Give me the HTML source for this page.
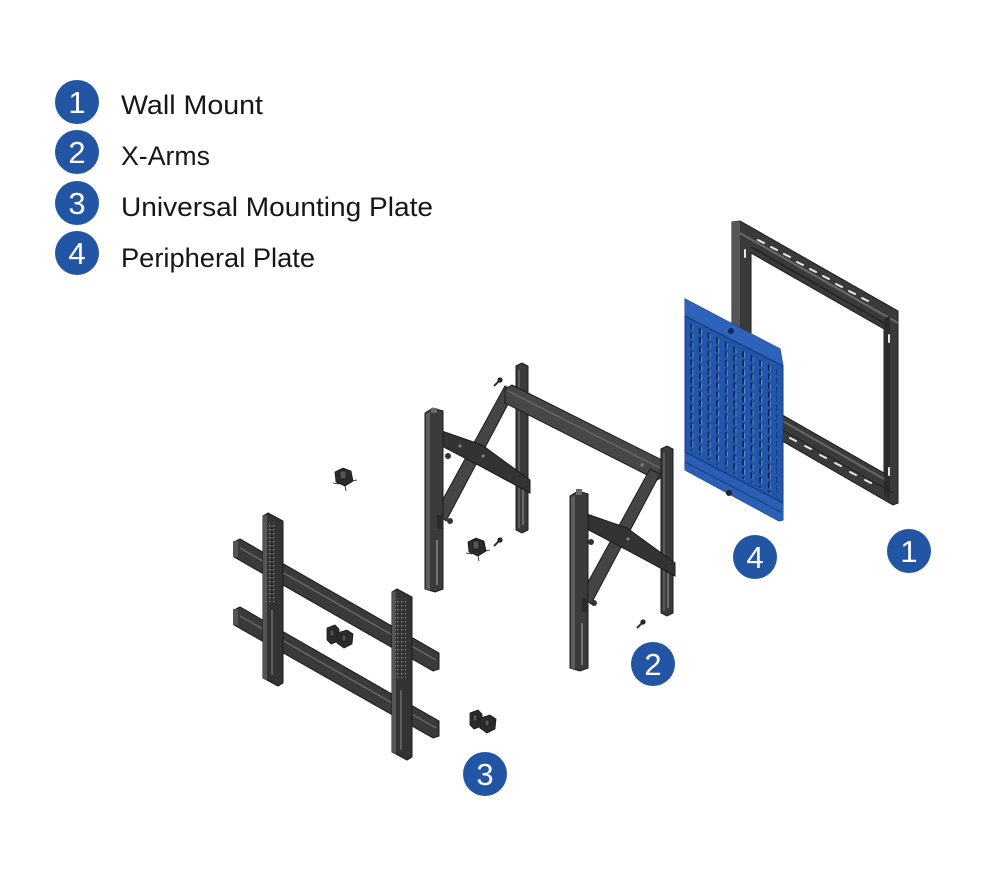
<!DOCTYPE html>
<html><head><meta charset="utf-8"><style>
html,body{margin:0;padding:0;background:#fff;}
svg{display:block;}
</style></head><body>
<svg width="1000" height="872" viewBox="0 0 1000 872" xmlns="http://www.w3.org/2000/svg">
<defs>
<pattern id="perf" width="8.6" height="9" patternUnits="userSpaceOnUse" patternTransform="skewY(28)">
<rect x="2.5" y="1" width="1.8" height="6" fill="#0c214d"/>
<rect x="4.3" y="1.5" width="1" height="5.5" fill="#6a92d6"/>
</pattern>
<pattern id="dots" width="4" height="4" patternUnits="userSpaceOnUse">
<rect x="1" y="1" width="1.4" height="1.4" fill="#8a8a8a"/>
</pattern>
</defs>

<!-- Legend -->
<g font-family="Liberation Sans, Arial, sans-serif">
<circle cx="77" cy="102" r="22" fill="#2256a5"/>
<circle cx="77" cy="152" r="22" fill="#2256a5"/>
<circle cx="77" cy="203" r="22" fill="#2256a5"/>
<circle cx="77" cy="253" r="22" fill="#2256a5"/>
<g fill="#fff" font-size="31" text-anchor="middle">
<text x="77" y="113">1</text>
<text x="77" y="163">2</text>
<text x="77" y="214">3</text>
<text x="77" y="264">4</text>
</g>
<g fill="#161616" font-size="27">
<text x="121" y="114" textLength="142" lengthAdjust="spacingAndGlyphs">Wall Mount</text>
<text x="121" y="165" textLength="89" lengthAdjust="spacingAndGlyphs">X-Arms</text>
<text x="121" y="216" textLength="312" lengthAdjust="spacingAndGlyphs">Universal Mounting Plate</text>
<text x="121" y="267" textLength="194" lengthAdjust="spacingAndGlyphs">Peripheral Plate</text>
</g>
</g>

<!-- Wall mount (1) -->
<g>
<path d="M732,222 L740,221 L898,311 L898,503 L893,505 L732,412 Z M751,253 L884,329 L884,473 L751,397 Z" fill="#3a3a3a" fill-rule="evenodd" stroke="#1c1c1c" stroke-width="1"/>
<polygon points="732,222 740,221 740,414 732,410" fill="#555"/>
<line x1="740" y1="233" x2="898" y2="323" stroke="#6a6a6a" stroke-width="2"/>
<line x1="751" y1="247" x2="884" y2="323" stroke="#222" stroke-width="1.5"/>
<polygon points="884,318 890,316 890,500 884,497" fill="#2c2c2c"/>
<line x1="751" y1="403" x2="884" y2="479" stroke="#666" stroke-width="2"/>
<line x1="751" y1="412" x2="893" y2="493" stroke="#222" stroke-width="1"/>
<g stroke="#e8e8e8" stroke-width="2" stroke-linecap="round">
<line x1="758" y1="240" x2="764" y2="243"/>
<line x1="771" y1="247" x2="777" y2="250"/>
<line x1="784" y1="254" x2="790" y2="257"/>
<line x1="797" y1="262" x2="803" y2="265"/>
<line x1="810" y1="269" x2="816" y2="272"/>
<line x1="823" y1="276" x2="829" y2="279"/>
<line x1="836" y1="284" x2="842" y2="287"/>
<line x1="849" y1="291" x2="855" y2="294"/>
<line x1="862" y1="298" x2="868" y2="301"/>
<line x1="790" y1="438" x2="796" y2="441"/>
<line x1="805" y1="446" x2="811" y2="449"/>
<line x1="820" y1="455" x2="826" y2="458"/>
<line x1="835" y1="463" x2="841" y2="466"/>
<line x1="850" y1="472" x2="856" y2="475"/>
<line x1="865" y1="480" x2="871" y2="483"/>
<line x1="745" y1="250" x2="745" y2="257"/>
<line x1="889" y1="335" x2="889" y2="342"/>
<line x1="889" y1="468" x2="889" y2="475"/>
</g>
</g>

<!-- Peripheral plate (4) -->
<g>
<polygon points="685,299 780,349 783,366 783,520 779,521 685,470" fill="#2256aa" stroke="#173d80" stroke-width="1"/>
<polygon points="685,299 780,349 783,366 685,316" fill="#2d63bb"/>
<line x1="685" y1="316" x2="783" y2="366" stroke="#153a7c" stroke-width="1.2"/>
<polygon points="690,323 777,369 777,497 690,450" fill="url(#perf)"/>
<polygon points="685,452 783,503 783,520 779,521 685,470" fill="#2a5fb5"/>
<line x1="685" y1="452" x2="783" y2="503" stroke="#153a7c" stroke-width="1.2"/>
<line x1="685" y1="462" x2="781" y2="512" stroke="#15407f" stroke-width="1"/>
<circle cx="731" cy="331" r="3" fill="#0f2a5c"/>
<circle cx="729" cy="493" r="3" fill="#222"/>
</g>

<!-- X-Arms (2): left arm -->
<g id="armL">
<polygon points="516,366 522,363 528,366 528,530 522,533 516,530" fill="#3a3a3a" stroke="#1b1b1b"/>
<line x1="519" y1="370" x2="519" y2="528" stroke="#5a5a5a" stroke-width="2"/>
<line x1="523" y1="482" x2="523" y2="525" stroke="#9a9a9a" stroke-width="1"/>
<polygon points="436,512 505,386 515,391 446,521" fill="#454545" stroke="#1b1b1b"/>
<polygon points="436,429 482,445 530,480 530,493 482,467 436,443" fill="#333" stroke="#1b1b1b"/>
<circle cx="483" cy="456" r="1.5" fill="#888"/>
<circle cx="460" cy="446" r="1.5" fill="#888"/>
<polygon points="425,413 433,408 443,411 443,589 435,592 425,589" fill="#3b3b3b" stroke="#1b1b1b"/>
<polygon points="426,414 430,412 430,590 426,589" fill="#5e5e5e"/>
<rect x="431" y="408" width="6" height="5" fill="#6a6a6a"/>
<line x1="437" y1="540" x2="437" y2="585" stroke="#9a9a9a" stroke-width="1.2"/>
<rect x="437" y="515" width="5" height="14" fill="#2a2a2a"/>
<circle cx="450" cy="521" r="3" fill="#333"/>
<circle cx="448" cy="456" r="3" fill="#333"/>
</g>
<!-- crossbar -->
<polygon points="505,389 512,385 664,461 664,476 657,480 505,403" fill="#474747" stroke="#1b1b1b"/>
<line x1="508" y1="391" x2="660" y2="468" stroke="#666" stroke-width="1.5"/>
<circle cx="642" cy="465" r="1.8" fill="#777"/>
<!-- right arm -->
<g transform="translate(145,83)">
<polygon points="516,366 522,363 528,366 528,530 522,533 516,530" fill="#3a3a3a" stroke="#1b1b1b"/>
<line x1="519" y1="370" x2="519" y2="528" stroke="#5a5a5a" stroke-width="2"/>
<line x1="523" y1="482" x2="523" y2="525" stroke="#9a9a9a" stroke-width="1"/>
<polygon points="436,512 505,386 515,391 446,521" fill="#454545" stroke="#1b1b1b"/>
<polygon points="436,429 482,445 530,480 530,493 482,467 436,443" fill="#333" stroke="#1b1b1b"/>
<circle cx="483" cy="456" r="1.5" fill="#888"/>
<polygon points="425,413 433,408 443,411 443,585 435,588 425,585" fill="#3b3b3b" stroke="#1b1b1b"/>
<polygon points="426,414 430,412 430,586 426,585" fill="#5e5e5e"/>
<rect x="431" y="406" width="6" height="6" fill="#6a6a6a"/>
<line x1="437" y1="540" x2="437" y2="582" stroke="#9a9a9a" stroke-width="1.2"/>
<rect x="437" y="515" width="5" height="14" fill="#2a2a2a"/>
<circle cx="449" cy="520" r="3" fill="#333"/>
<circle cx="446" cy="459" r="3" fill="#333"/>
</g>

<!-- small hardware -->
<g fill="#2b2b2b" stroke="#1a1a1a" stroke-width="0.8">
<line x1="494" y1="386" x2="500" y2="380" stroke="#333" stroke-width="2"/>
<circle cx="500" cy="380" r="2.2"/>
<line x1="494" y1="546" x2="500" y2="540" stroke="#333" stroke-width="2"/>
<circle cx="500" cy="540" r="2.2"/>
<line x1="637" y1="628" x2="643" y2="622" stroke="#333" stroke-width="2"/>
<circle cx="643" cy="622" r="2.2"/>
<!-- bracket near (345,478) -->
<g transform="translate(333,467)">
<polygon points="2,5 10,1 18,4 20,14 12,19 3,15"/>
<rect x="7" y="4" width="6" height="8" fill="#555"/>
<line x1="0" y1="16" x2="6" y2="17"/><line x1="12" y1="19" x2="13" y2="24"/><line x1="18" y1="14" x2="24" y2="13"/>
</g>
<g transform="translate(466,537)">
<polygon points="2,5 10,1 18,4 20,14 12,19 3,15"/>
<rect x="7" y="4" width="6" height="8" fill="#555"/>
<line x1="0" y1="16" x2="6" y2="17"/><line x1="12" y1="19" x2="13" y2="24"/><line x1="18" y1="14" x2="24" y2="13"/>
</g>
</g>

<!-- Universal mounting plate (3) -->
<g>
<polygon points="234,542 240,539 439,653 439,669 433,671 234,557" fill="#3a3a3a" stroke="#1b1b1b"/>
<line x1="240" y1="548" x2="436" y2="660" stroke="#666" stroke-width="1.5"/>
<polygon points="234,610 240,607 439,721 439,736 433,738 234,625" fill="#3a3a3a" stroke="#1b1b1b"/>
<line x1="240" y1="616" x2="436" y2="728" stroke="#666" stroke-width="1.5"/>
<rect x="233" y="541" width="5" height="16" fill="#555"/>
<rect x="233" y="609" width="5" height="16" fill="#555"/>
<polygon points="263,516 268,513 283,521 283,683 278,686 263,678" fill="#333" stroke="#1b1b1b"/>
<rect x="268" y="522" width="9" height="80" fill="url(#dots)"/>
<polygon points="263,516 267,515 267,680 263,678" fill="#555"/>
<polygon points="392,592 397,589 412,597 412,757 407,760 392,752" fill="#333" stroke="#1b1b1b"/>
<rect x="397" y="598" width="9" height="80" fill="url(#dots)"/>
<polygon points="392,592 396,591 396,754 392,752" fill="#555"/>
<line x1="272" y1="610" x2="272" y2="675" stroke="#888" stroke-width="1"/>
<line x1="401" y1="690" x2="401" y2="750" stroke="#888" stroke-width="1"/>
<!-- brackets -->
<g fill="#2b2b2b" stroke="#1a1a1a" stroke-width="0.8">
<g transform="translate(327,625)">
<polygon points="0,3 8,0 12,4 12,16 4,19 0,15"/>
<polygon points="10,8 20,5 26,9 25,19 17,23 10,18"/>
<rect x="3" y="5" width="4" height="6" fill="#555"/>
<rect x="15" y="10" width="4" height="6" fill="#555"/>
</g>
<g transform="translate(470,710)">
<polygon points="0,3 8,0 12,4 12,16 4,19 0,15"/>
<polygon points="10,8 20,5 26,9 25,19 17,23 10,18"/>
<rect x="3" y="5" width="4" height="6" fill="#555"/>
<rect x="15" y="10" width="4" height="6" fill="#555"/>
</g>
</g>
</g>

<!-- Callout circles -->
<g font-family="Liberation Sans, Arial, sans-serif" font-size="31" fill="#fff" text-anchor="middle">
<circle cx="909" cy="551" r="22" fill="#2256a5"/>
<text x="909" y="562">1</text>
<circle cx="755" cy="557" r="22" fill="#2256a5"/>
<text x="755" y="568">4</text>
<circle cx="653" cy="664" r="22" fill="#2256a5"/>
<text x="653" y="675">2</text>
<circle cx="485" cy="774" r="22" fill="#2256a5"/>
<text x="485" y="785">3</text>
</g>
</svg>
</body></html>
